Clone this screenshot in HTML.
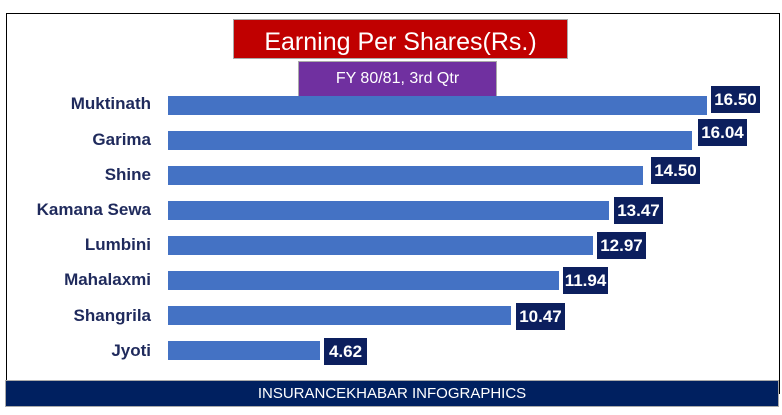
<!DOCTYPE html>
<html><head><style>
body{margin:0;width:782px;height:415px;background:#fff;position:relative;overflow:hidden;font-family:"Liberation Sans Narrow","Liberation Sans",sans-serif}
.frame{position:absolute;left:6px;top:13px;width:772px;height:380px;border:1px solid #000;border-bottom:none}
.t{position:absolute;left:233px;top:19px;width:335px;height:40px;background:#c00000;border:1px solid #aaa;box-sizing:border-box;color:#fff;font-size:25px;text-align:center;line-height:44px;overflow:hidden}
.s{position:absolute;left:298px;top:61px;width:199px;height:36px;background:#7030a0;border:1px solid #aaa;box-sizing:border-box;color:#fff;font-size:16px;text-align:center;line-height:34px}
.n{position:absolute;right:631px;font-size:17px;font-weight:bold;color:#1f2a5c;text-align:right;white-space:nowrap}
.b{position:absolute;left:168px;height:19px;background:#4472c4}
.v{position:absolute;height:27px;background:#0c1f5e;color:#fff;font-size:17px;font-weight:bold;line-height:28px;text-align:center}
.f{position:absolute;left:5px;top:380px;width:774px;height:27px;background:#002060;border:1px solid #aaa;box-sizing:border-box;color:#fff;font-size:15px;text-align:center;line-height:26px}
</style></head><body>
<div class="frame"></div>
<div class="t">Earning Per Shares(Rs.)</div>
<div class="s">FY 80/81, 3rd Qtr</div>

<div class="n" style="top:94px">Muktinath</div><div class="b" style="top:96px;width:539px"></div><div class="v" style="left:711px;top:86px;width:49px">16.50</div>
<div class="n" style="top:130px">Garima</div><div class="b" style="top:131px;width:524px"></div><div class="v" style="left:698px;top:119px;width:49px">16.04</div>
<div class="n" style="top:165px">Shine</div><div class="b" style="top:166px;width:475px"></div><div class="v" style="left:651px;top:157px;width:49px">14.50</div>
<div class="n" style="top:200px">Kamana Sewa</div><div class="b" style="top:201px;width:441px"></div><div class="v" style="left:614px;top:197px;width:49px">13.47</div>
<div class="n" style="top:235px">Lumbini</div><div class="b" style="top:236px;width:425px"></div><div class="v" style="left:597px;top:232px;width:49px">12.97</div>
<div class="n" style="top:270px">Mahalaxmi</div><div class="b" style="top:271px;width:391px"></div><div class="v" style="left:563px;top:267px;width:45px">11.94</div>
<div class="n" style="top:306px">Shangrila</div><div class="b" style="top:306px;width:343px"></div><div class="v" style="left:516px;top:303px;width:49px">10.47</div>
<div class="n" style="top:341px">Jyoti</div><div class="b" style="top:341px;width:152px"></div><div class="v" style="left:324px;top:338px;width:43px">4.62</div>

<div class="f">INSURANCEKHABAR INFOGRAPHICS</div>
</body></html>
